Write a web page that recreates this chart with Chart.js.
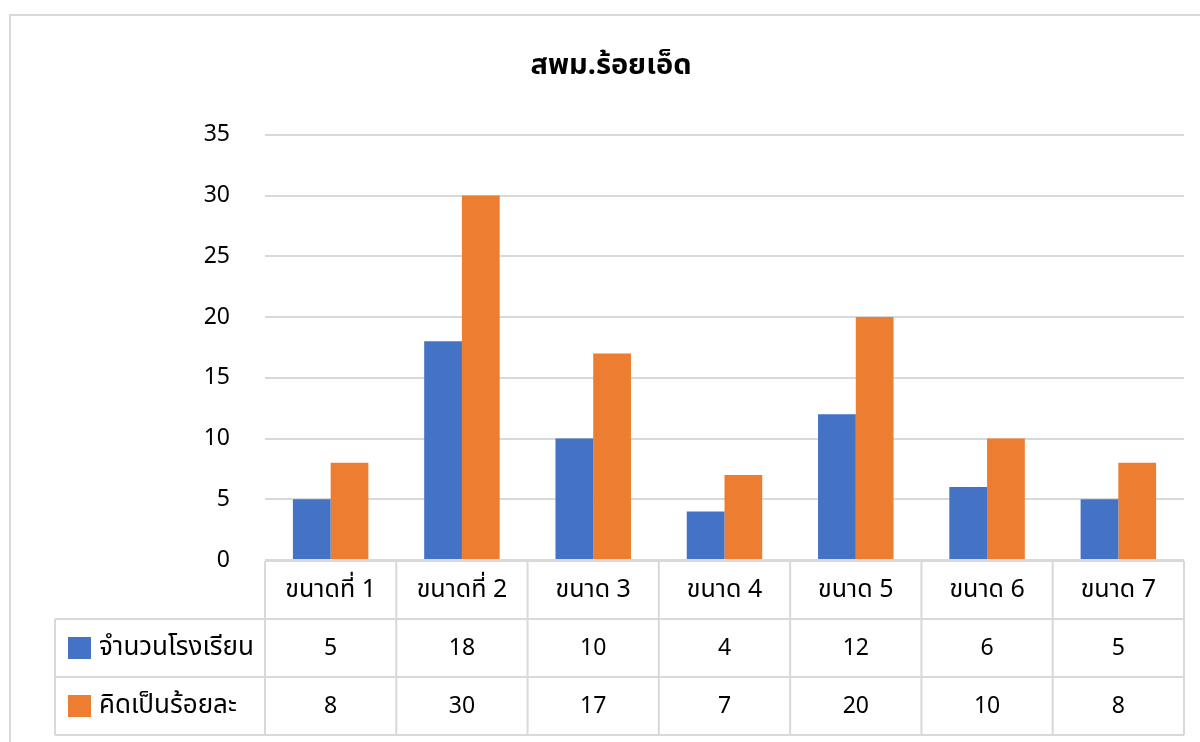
<!DOCTYPE html>
<html>
<head>
<meta charset="utf-8">
<script src="https://cdn.jsdelivr.net/npm/chart.js@4.4.1/dist/chart.umd.min.js"></script>
<style>
  html, body { margin: 0; padding: 0; background: #fff; }
  #wrap { width: 1200px; height: 742px; position: relative; }
</style>
</head>
<body>
<div id="wrap"><canvas id="bar-chart"></canvas></div>
<script>
const chartTitle = 'สพม.ร้อยเอ็ด';
const categories = ['ขนาดที่ 1', 'ขนาดที่ 2', 'ขนาด 3', 'ขนาด 4', 'ขนาด 5', 'ขนาด 6', 'ขนาด 7'];
const seriesNames = ['จำนวนโรงเรียน', 'คิดเป็นร้อยละ'];
const schools = [5, 18, 10, 4, 12, 6, 5];
const percents = [8, 30, 17, 7, 20, 10, 8];
const yTicks = [0, 5, 10, 15, 20, 25, 30, 35];

const colors = ['#4472C4', '#ED7D31'];
const fontFamily = "'Noto Sans', 'Noto Sans Thai', 'DejaVu Sans', sans-serif";
const lineColor = '#d9d9d9';

// frame + data table under the plot
const tablePlugin = {
  id: 'dataTable',
  beforeDraw(chart) {
    const ctx = chart.ctx;
    ctx.save();
    ctx.strokeStyle = lineColor;
    ctx.lineWidth = 2;
    ctx.strokeRect(10, 15, 1200, 740);
    ctx.restore();
  },
  afterDraw(chart) {
    const ctx = chart.ctx;
    const area = chart.chartArea;
    const x = chart.scales.x;
    const n = categories.length;
    const colW = (area.right - area.left) / n;
    const rowH = 58;
    const top = area.bottom + 1;
    const labelLeft = 55;
    const series = [schools, percents];

    ctx.save();
    ctx.strokeStyle = lineColor;
    ctx.lineWidth = 2;
    ctx.beginPath();
    ctx.moveTo(area.left, top);
    ctx.lineTo(area.right, top);
    for (let r = 1; r <= 3; r++) {
      ctx.moveTo(labelLeft, top + r * rowH);
      ctx.lineTo(area.right, top + r * rowH);
    }
    for (let i = 0; i <= n; i++) {
      const xx = area.left + i * colW;
      ctx.moveTo(xx, top);
      ctx.lineTo(xx, top + 3 * rowH);
    }
    ctx.moveTo(labelLeft, top + rowH);
    ctx.lineTo(labelLeft, top + 3 * rowH);
    ctx.stroke();

    ctx.fillStyle = '#000';
    ctx.textAlign = 'center';
    ctx.textBaseline = 'middle';
    categories.forEach((c, i) => {
      const cx = x.getPixelForValue(i);
      ctx.font = '25px ' + fontFamily;
      ctx.fillText(c, cx, top + rowH / 2);
      ctx.font = '23px ' + fontFamily;
      series.forEach((s, r) => {
        ctx.fillText(String(s[i]), cx, top + rowH * (r + 1.5));
      });
    });

    ctx.textAlign = 'left';
    ctx.font = '26px ' + fontFamily;
    seriesNames.forEach((name, r) => {
      const cy = top + rowH * (r + 1.5);
      ctx.fillStyle = colors[r];
      ctx.fillRect(68, cy - 11, 23, 22);
      ctx.fillStyle = '#000';
      ctx.fillText(name, 99, cy);
    });
    ctx.restore();
  }
};

const ctx = document.getElementById('bar-chart').getContext('2d');
window.myBarChart = new Chart(ctx, {
  type: 'bar',
  data: {
    labels: categories,
    datasets: [
      { label: seriesNames[0], data: schools, backgroundColor: colors[0] },
      { label: seriesNames[1], data: percents, backgroundColor: colors[1] },
    ],
  },
  options: {
    responsive: true,
    maintainAspectRatio: false,
    animation: false,
    devicePixelRatio: 1,
    datasets: {
      bar: { categoryPercentage: 0.575, barPercentage: 1.0 },
    },
    plugins: {
      legend: { display: false },
      tooltip: { enabled: false },
      title: {
        display: true,
        text: chartTitle,
        color: '#000',
        font: { family: fontFamily, size: 29, weight: 'bold', lineHeight: 1.2 },
        padding: { top: 48, bottom: 52 },
      },
    },
    scales: {
      x: {
        display: false,
      },
      y: {
        min: 0,
        max: 35,
        afterBuildTicks: (scale) => { scale.ticks = yTicks.map(v => ({ value: v })); },
        afterFit: (scale) => { scale.width = 227; },
        border: { display: false },
        grid: { color: lineColor, lineWidth: 2, drawTicks: false },
        ticks: {
          color: '#000',
          padding: 35,
          font: { family: fontFamily, size: 23 },
        },
      },
    },
    layout: {
      padding: { left: 38, right: 16, top: 0, bottom: 182 },
    },
  },
  plugins: [tablePlugin],
});
</script>
</body>
</html>
